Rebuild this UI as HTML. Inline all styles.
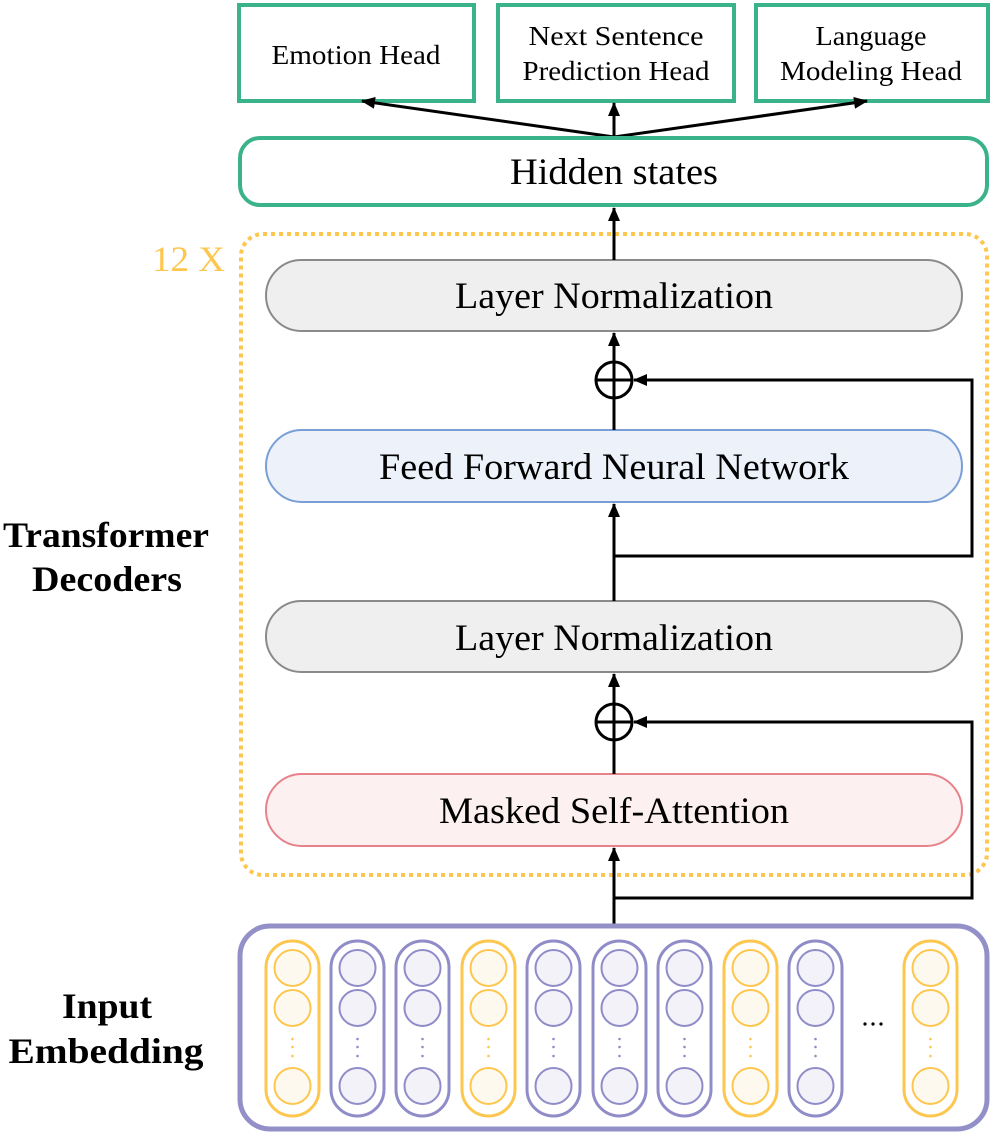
<!DOCTYPE html>
<html><head><meta charset="utf-8"><style>
html,body{margin:0;padding:0;background:#fff}
svg{display:block}
text{font-family:"Liberation Serif",serif}
</style></head><body>
<svg width="994" height="1138" viewBox="0 0 994 1138" xmlns="http://www.w3.org/2000/svg">
<defs>
<marker id="ah2" markerWidth="14" markerHeight="12" refX="13" refY="6" orient="auto" markerUnits="userSpaceOnUse">
<path d="M0,0 L14,6 L0,12 z" fill="#000"/>
</marker>
</defs>

<!-- Heads -->
<rect x="239" y="5" width="235" height="96" fill="#fff" stroke="#3bb38a" stroke-width="4"/>
<rect x="498" y="5" width="236" height="96" fill="#fff" stroke="#3bb38a" stroke-width="4"/>
<rect x="756" y="5" width="232" height="96" fill="#fff" stroke="#3bb38a" stroke-width="4"/>
<text x="356" y="64" font-size="27" text-anchor="middle" textLength="169" lengthAdjust="spacingAndGlyphs">Emotion Head</text>
<text x="616" y="45" font-size="27" text-anchor="middle" textLength="175" lengthAdjust="spacingAndGlyphs">Next Sentence</text>
<text x="616" y="80" font-size="27" text-anchor="middle" textLength="187" lengthAdjust="spacingAndGlyphs">Prediction Head</text>
<text x="871" y="45" font-size="27" text-anchor="middle" textLength="111" lengthAdjust="spacingAndGlyphs">Language</text>
<text x="871" y="80" font-size="27" text-anchor="middle" textLength="182" lengthAdjust="spacingAndGlyphs">Modeling Head</text>

<g stroke="#000" stroke-width="3" fill="none">
<line x1="614" y1="137" x2="362" y2="101" marker-end="url(#ah2)"/>
<line x1="614" y1="137" x2="614" y2="103" marker-end="url(#ah2)"/>
<line x1="614" y1="137" x2="867" y2="101" marker-end="url(#ah2)"/>
</g>

<rect x="240" y="138" width="747" height="67" rx="20" fill="#fff" stroke="#3bb38a" stroke-width="4"/>
<text x="614" y="184" font-size="37" text-anchor="middle" textLength="208" lengthAdjust="spacingAndGlyphs">Hidden states</text>

<rect x="241" y="234" width="746" height="641" rx="22" fill="none" stroke="#fdc74f" stroke-width="4" stroke-dasharray="4,4"/>
<text x="152" y="271" font-size="36" fill="#fdc74f" textLength="73" lengthAdjust="spacingAndGlyphs">12 X</text>

<rect x="266" y="260" width="696" height="71" rx="35.5" fill="#efefef" stroke="#8a8a8a" stroke-width="2"/>
<text x="614" y="308" font-size="37" text-anchor="middle" textLength="318" lengthAdjust="spacingAndGlyphs">Layer Normalization</text>

<rect x="266" y="430" width="696" height="72" rx="36" fill="#edf2fa" stroke="#7a9fd6" stroke-width="2"/>
<text x="614" y="479" font-size="37" text-anchor="middle" textLength="470" lengthAdjust="spacingAndGlyphs">Feed Forward Neural Network</text>

<rect x="266" y="601" width="696" height="71" rx="35.5" fill="#efefef" stroke="#8a8a8a" stroke-width="2"/>
<text x="614" y="650" font-size="37" text-anchor="middle" textLength="318" lengthAdjust="spacingAndGlyphs">Layer Normalization</text>

<rect x="266" y="774" width="696" height="72" rx="36" fill="#fdf0f0" stroke="#e8828a" stroke-width="2"/>
<text x="614" y="823" font-size="37" text-anchor="middle" textLength="350" lengthAdjust="spacingAndGlyphs">Masked Self-Attention</text>

<g stroke="#000" stroke-width="3" fill="none">
<line x1="614" y1="260" x2="614" y2="208" marker-end="url(#ah2)"/>
<line x1="614" y1="398" x2="614" y2="333" marker-end="url(#ah2)"/>
<circle cx="614" cy="380" r="18"/>
<line x1="596" y1="380" x2="632" y2="380"/>
<line x1="614" y1="430" x2="614" y2="397"/>
<line x1="614" y1="601" x2="614" y2="504" marker-end="url(#ah2)"/>
<polyline points="614,556 972,556 972,380 634,380" marker-end="url(#ah2)"/>
<circle cx="614" cy="722" r="18"/>
<line x1="596" y1="722" x2="632" y2="722"/>
<line x1="614" y1="740" x2="614" y2="674" marker-end="url(#ah2)"/>
<line x1="614" y1="774" x2="614" y2="740"/>
<line x1="614" y1="924" x2="614" y2="848" marker-end="url(#ah2)"/>
<polyline points="614,898 972,898 972,722 634,722" marker-end="url(#ah2)"/>
</g>

<rect x="240" y="926" width="747" height="203" rx="30" fill="#fff" stroke="#9390c8" stroke-width="5"/>
<g>
<rect x="266" y="941" width="53" height="175" rx="26.5" fill="none" stroke="#fdc74f" stroke-width="3"/>
<circle cx="292.5" cy="968" r="18" fill="#fef9ee" stroke="#fdc74f" stroke-width="2"/>
<circle cx="292.5" cy="1008" r="18" fill="#fef9ee" stroke="#fdc74f" stroke-width="2"/>
<circle cx="292.5" cy="1086" r="18" fill="#fef9ee" stroke="#fdc74f" stroke-width="2"/>
<g fill="#fdc74f"><circle cx="292.5" cy="1039" r="1.3"/><circle cx="292.5" cy="1047" r="1.3"/><circle cx="292.5" cy="1056" r="1.3"/></g>

<rect x="331" y="941" width="53" height="175" rx="26.5" fill="none" stroke="#8f8cc8" stroke-width="3"/>
<circle cx="357.5" cy="968" r="18" fill="#f3f2f9" stroke="#8f8cc8" stroke-width="2"/>
<circle cx="357.5" cy="1008" r="18" fill="#f3f2f9" stroke="#8f8cc8" stroke-width="2"/>
<circle cx="357.5" cy="1086" r="18" fill="#f3f2f9" stroke="#8f8cc8" stroke-width="2"/>
<g fill="#8f8cc8"><circle cx="357.5" cy="1039" r="1.3"/><circle cx="357.5" cy="1047" r="1.3"/><circle cx="357.5" cy="1056" r="1.3"/></g>

<rect x="396" y="941" width="53" height="175" rx="26.5" fill="none" stroke="#8f8cc8" stroke-width="3"/>
<circle cx="422.5" cy="968" r="18" fill="#f3f2f9" stroke="#8f8cc8" stroke-width="2"/>
<circle cx="422.5" cy="1008" r="18" fill="#f3f2f9" stroke="#8f8cc8" stroke-width="2"/>
<circle cx="422.5" cy="1086" r="18" fill="#f3f2f9" stroke="#8f8cc8" stroke-width="2"/>
<g fill="#8f8cc8"><circle cx="422.5" cy="1039" r="1.3"/><circle cx="422.5" cy="1047" r="1.3"/><circle cx="422.5" cy="1056" r="1.3"/></g>

<rect x="462" y="941" width="53" height="175" rx="26.5" fill="none" stroke="#fdc74f" stroke-width="3"/>
<circle cx="488.5" cy="968" r="18" fill="#fef9ee" stroke="#fdc74f" stroke-width="2"/>
<circle cx="488.5" cy="1008" r="18" fill="#fef9ee" stroke="#fdc74f" stroke-width="2"/>
<circle cx="488.5" cy="1086" r="18" fill="#fef9ee" stroke="#fdc74f" stroke-width="2"/>
<g fill="#fdc74f"><circle cx="488.5" cy="1039" r="1.3"/><circle cx="488.5" cy="1047" r="1.3"/><circle cx="488.5" cy="1056" r="1.3"/></g>

<rect x="527" y="941" width="53" height="175" rx="26.5" fill="none" stroke="#8f8cc8" stroke-width="3"/>
<circle cx="553.5" cy="968" r="18" fill="#f3f2f9" stroke="#8f8cc8" stroke-width="2"/>
<circle cx="553.5" cy="1008" r="18" fill="#f3f2f9" stroke="#8f8cc8" stroke-width="2"/>
<circle cx="553.5" cy="1086" r="18" fill="#f3f2f9" stroke="#8f8cc8" stroke-width="2"/>
<g fill="#8f8cc8"><circle cx="553.5" cy="1039" r="1.3"/><circle cx="553.5" cy="1047" r="1.3"/><circle cx="553.5" cy="1056" r="1.3"/></g>

<rect x="593" y="941" width="53" height="175" rx="26.5" fill="none" stroke="#8f8cc8" stroke-width="3"/>
<circle cx="619.5" cy="968" r="18" fill="#f3f2f9" stroke="#8f8cc8" stroke-width="2"/>
<circle cx="619.5" cy="1008" r="18" fill="#f3f2f9" stroke="#8f8cc8" stroke-width="2"/>
<circle cx="619.5" cy="1086" r="18" fill="#f3f2f9" stroke="#8f8cc8" stroke-width="2"/>
<g fill="#8f8cc8"><circle cx="619.5" cy="1039" r="1.3"/><circle cx="619.5" cy="1047" r="1.3"/><circle cx="619.5" cy="1056" r="1.3"/></g>

<rect x="658" y="941" width="53" height="175" rx="26.5" fill="none" stroke="#8f8cc8" stroke-width="3"/>
<circle cx="684.5" cy="968" r="18" fill="#f3f2f9" stroke="#8f8cc8" stroke-width="2"/>
<circle cx="684.5" cy="1008" r="18" fill="#f3f2f9" stroke="#8f8cc8" stroke-width="2"/>
<circle cx="684.5" cy="1086" r="18" fill="#f3f2f9" stroke="#8f8cc8" stroke-width="2"/>
<g fill="#8f8cc8"><circle cx="684.5" cy="1039" r="1.3"/><circle cx="684.5" cy="1047" r="1.3"/><circle cx="684.5" cy="1056" r="1.3"/></g>

<rect x="724" y="941" width="53" height="175" rx="26.5" fill="none" stroke="#fdc74f" stroke-width="3"/>
<circle cx="750.5" cy="968" r="18" fill="#fef9ee" stroke="#fdc74f" stroke-width="2"/>
<circle cx="750.5" cy="1008" r="18" fill="#fef9ee" stroke="#fdc74f" stroke-width="2"/>
<circle cx="750.5" cy="1086" r="18" fill="#fef9ee" stroke="#fdc74f" stroke-width="2"/>
<g fill="#fdc74f"><circle cx="750.5" cy="1039" r="1.3"/><circle cx="750.5" cy="1047" r="1.3"/><circle cx="750.5" cy="1056" r="1.3"/></g>

<rect x="789" y="941" width="53" height="175" rx="26.5" fill="none" stroke="#8f8cc8" stroke-width="3"/>
<circle cx="815.5" cy="968" r="18" fill="#f3f2f9" stroke="#8f8cc8" stroke-width="2"/>
<circle cx="815.5" cy="1008" r="18" fill="#f3f2f9" stroke="#8f8cc8" stroke-width="2"/>
<circle cx="815.5" cy="1086" r="18" fill="#f3f2f9" stroke="#8f8cc8" stroke-width="2"/>
<g fill="#8f8cc8"><circle cx="815.5" cy="1039" r="1.3"/><circle cx="815.5" cy="1047" r="1.3"/><circle cx="815.5" cy="1056" r="1.3"/></g>

<g fill="#000"><circle cx="865" cy="1024" r="1.6"/><circle cx="873" cy="1024" r="1.6"/><circle cx="881" cy="1024" r="1.6"/></g>

<rect x="904" y="941" width="53" height="175" rx="26.5" fill="none" stroke="#fdc74f" stroke-width="3"/>
<circle cx="930.5" cy="968" r="18" fill="#fef9ee" stroke="#fdc74f" stroke-width="2"/>
<circle cx="930.5" cy="1008" r="18" fill="#fef9ee" stroke="#fdc74f" stroke-width="2"/>
<circle cx="930.5" cy="1086" r="18" fill="#fef9ee" stroke="#fdc74f" stroke-width="2"/>
<g fill="#fdc74f"><circle cx="930.5" cy="1039" r="1.3"/><circle cx="930.5" cy="1047" r="1.3"/><circle cx="930.5" cy="1056" r="1.3"/></g>
</g>

<text x="106" y="547" font-size="36" font-weight="bold" text-anchor="middle" textLength="206" lengthAdjust="spacingAndGlyphs">Transformer</text>
<text x="107" y="591" font-size="36" font-weight="bold" text-anchor="middle" textLength="150" lengthAdjust="spacingAndGlyphs">Decoders</text>
<text x="107" y="1018" font-size="36" font-weight="bold" text-anchor="middle" textLength="90" lengthAdjust="spacingAndGlyphs">Input</text>
<text x="106" y="1063" font-size="36" font-weight="bold" text-anchor="middle" textLength="195" lengthAdjust="spacingAndGlyphs">Embedding</text>
</svg>
</body></html>
